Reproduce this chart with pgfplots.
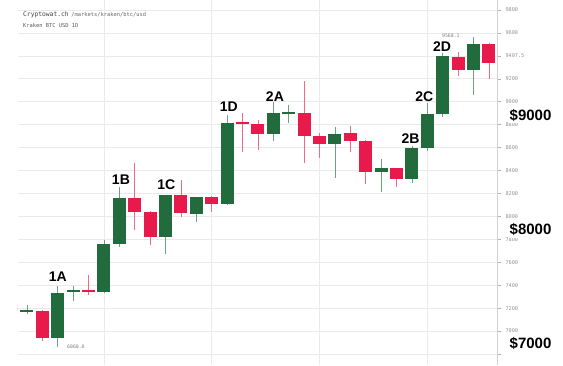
\documentclass[border=0pt]{standalone}
\usepackage{pgfplots}
\pgfplotsset{compat=1.18}
\usepackage{pgfplotstable}
\usepackage{fontspec}
\setmainfont{Liberation Sans}
\newfontfamily\monof{DejaVu Sans Mono}
\definecolor{cgreen}{HTML}{216B3D}
\definecolor{cred}{HTML}{E8194B}
\definecolor{gridc}{HTML}{EAEAEA}

% day index, open, high, low, close
\pgfplotstableread{
x o h l c
1 7168 7230 7152 7183
3 6940 7393 6861 7332
4 7340 7393 7262 7360
6 7341 7794 7330 7760
7 7760 8257 7733 8161
10 7821 8190 7672 8187
12 8021 8172 7951 8169
14 8108 8884 8100 8815
17 8719 8998 8658 8902
18 8895 8972 8815 8912
21 8632 8780 8335 8719
24 8387 8501 8213 8422
26 8326 8610 8292 8597
27 8597 8989 8570 8893
28 8893 9425 8867 9399
30 9277 9568.1 9059 9504
}\greentab

\pgfplotstableread{
x o h l c
0 7228 7240 7160 7175
2 7175 7180 6914 6940
5 7360 7489 7315 7345
8 8161 8466 7882 8039
9 8039 8045 7751 7821
11 8187 8318 7995 8030
13 8169 8175 8039 8108
15 8822 8902 8562 8808
16 8806 8841 8579 8719
19 8902 9181 8466 8701
20 8701 8730 8510 8632
22 8727 8789 8562 8658
23 8658 8662 8283 8387
25 8422 8425 8257 8326
29 9390 9434 9224 9277
31 9504 9512 9198 9338
}\redtab

\pgfplotsset{candle/.style={only marks, mark=*, mark options={draw=none, fill=none}, mark size=0pt,
  error bars/.cd, y dir=both, y explicit, error mark=none}}

\begin{document}
\begin{tikzpicture}
\begin{axis}[
  at={(0pt,0pt)}, anchor=south west,
  scale only axis, width=479pt, height=365pt,
  xmin=0.416, xmax=31.52, ymin=6704, ymax=9887,
  clip mode=individual,
  axis line style={draw=none},
  xtick={6,13,20,27}, xticklabels={},
  x tick style={draw=none},
  xmajorgrids, ymajorgrids,
  grid style={gridc, line width=0.6pt},
  ytick={6800,7000,...,9800},
  yticklabels={,7000,7200,7400,7600,7800,8000,8200,8400,8600,8800,9000,9200,9407.5,9600,9800},
  ytick pos=right, yticklabel pos=right,
  y tick style={draw=gray!60, line width=0.5pt},
  tick align=outside, major tick length=4pt,
  yticklabel style={font=\monof\fontsize{5.2}{6}\selectfont, text=gray!85, anchor=west, xshift=1pt},
  /pgf/number format/assume math mode=true,
]
% wicks
\addplot[candle, error bar style={cgreen!65, line width=0.9pt}]
  table[x=x, y expr={(\thisrow{h}+\thisrow{l})/2}, y error expr={(\thisrow{h}-\thisrow{l})/2}] {\greentab};
\addplot[candle, error bar style={cred!65, line width=0.9pt}]
  table[x=x, y expr={(\thisrow{h}+\thisrow{l})/2}, y error expr={(\thisrow{h}-\thisrow{l})/2}] {\redtab};
% bodies
\addplot[candle, error bar style={cgreen, line width=13pt}]
  table[x=x, y expr={(\thisrow{o}+\thisrow{c})/2}, y error expr={max(abs(\thisrow{o}-\thisrow{c})/2,9)}] {\greentab};
\addplot[candle, error bar style={cred, line width=13pt}]
  table[x=x, y expr={(\thisrow{o}+\thisrow{c})/2}, y error expr={max(abs(\thisrow{o}-\thisrow{c})/2,9)}] {\redtab};

\draw[gray!35, line width=0.6pt] (rel axis cs:1,0) -- (rel axis cs:1,1);

% candle annotations
\begin{scope}[every node/.style={font=\bfseries\fontsize{14}{14}\selectfont, inner sep=0pt}]
\node at (axis cs:3,7472) {1A};
\node at (axis cs:7.1,8318) {1B};
\node at (axis cs:10.05,8274) {1C};
\node at (axis cs:14.1,8954) {1D};
\node at (axis cs:17.1,9046) {2A};
\node at (axis cs:25.9,8675) {2B};
\node at (axis cs:26.8,9046) {2C};
\node at (axis cs:27.95,9482) {2D};
\end{scope}
\begin{scope}[every node/.style={font=\bfseries\fontsize{15}{15}\selectfont, fill=white, inner sep=1.5pt}]
\node at (axis cs:33.7,8880) {\$9000};
\node at (axis cs:33.7,7882) {\$8000};
\node at (axis cs:33.7,6888) {\$7000};
\end{scope}
\node[anchor=west, inner sep=0pt] at (axis cs:0.74,9756)
  {{\monof\fontsize{6.3}{7}\selectfont\color{black!75}Cryptowat.ch} {\monof\fontsize{5.4}{6}\selectfont\color{black!60}/markets/kraken/btc/usd}};
\node[anchor=west, inner sep=0pt] at (axis cs:0.74,9669)
  {\monof\fontsize{5.4}{6}\selectfont\color{black!65}Kraken BTC USD 1D};
\node[anchor=west, inner sep=0pt] at (axis cs:3.6,6861)
  {\monof\fontsize{4.8}{5}\selectfont\color{black!50}6860.0};
\node[anchor=east, inner sep=0pt] at (axis cs:29.1,9573)
  {\monof\fontsize{4.8}{5}\selectfont\color{black!50}9568.1};
\end{axis}
\pgfresetboundingbox
\useasboundingbox (-18pt,0pt) rectangle (545pt,365pt);
\end{tikzpicture}
\end{document}
